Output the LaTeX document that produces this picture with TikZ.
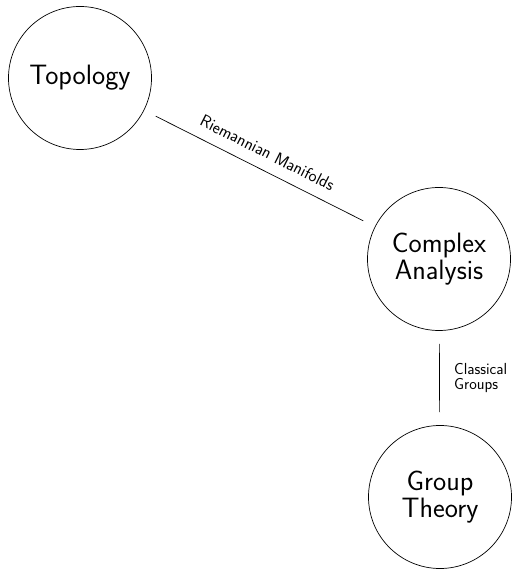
\documentclass[tikz,border=0pt]{standalone}
\begin{document}
\begin{tikzpicture}[x=1pt,y=1pt,
  topic/.style={draw, circle, line width=0.7pt, minimum size=143pt, inner sep=0pt,
    font=\sffamily\fontsize{28}{27}\selectfont, align=center},
  link/.style={line width=0.7pt, shorten <=13pt, shorten >=13pt},
  lbl/.style={font=\sffamily\fontsize{16}{14.5}\selectfont, align=left}]
\useasboundingbox (0,0) rectangle (515,570);
\node[topic] (top) at (80,492) {Topology};
\node[topic] (cx) at (439,311) {Complex\\Analysis};
\node[topic] (gt) at (440,73) {Group\\Theory};
\draw[link] (top) -- node[lbl, font=\sffamily\fontsize{17}{17}\selectfont, midway, sloped, above=8pt] {Riemannian Manifolds} (cx);
\draw[link] (cx) -- node[lbl, midway, right=11pt] {Classical\\Groups} (gt);
\end{tikzpicture}
\end{document}
